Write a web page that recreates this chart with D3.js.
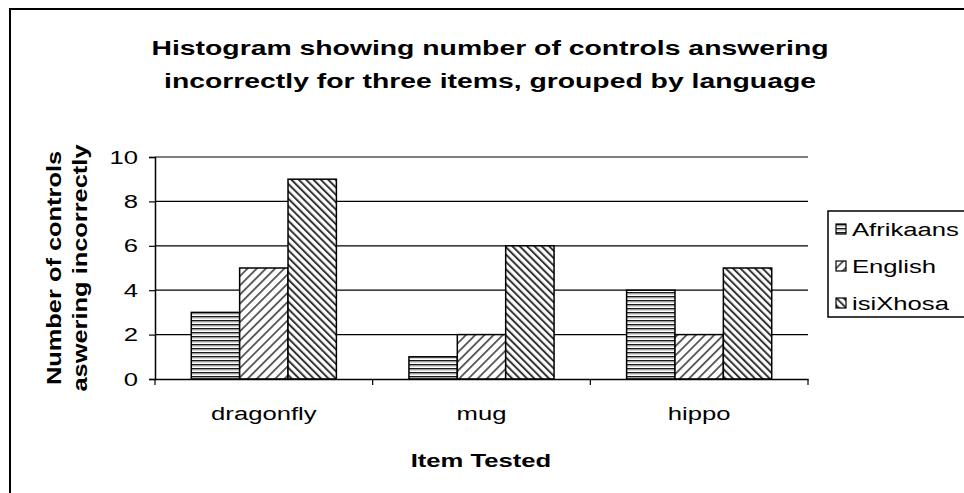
<!DOCTYPE html>
<html><head><meta charset="utf-8">
<script src="https://cdn.jsdelivr.net/npm/d3@7"></script>
<style>body{margin:0;background:#fff}svg{display:block}</style>
</head><body>
<svg id="c" width="964" height="493"></svg>
<script>
const categories = ["dragonfly", "mug", "hippo"];
const seriesNames = ["Afrikaans", "English", "isiXhosa"];
const afrikaans = [3, 1, 4];
const english = [5, 2, 2];
const isiXhosa = [9, 6, 5];
const yTicks = [0, 2, 4, 6, 8, 10];
const titleLines = ["Histogram showing number of controls answering", "incorrectly for three items, grouped by language"];
const yLabelLines = ["Number of controls", "aswering incorrectly"];
const xLabel = "Item Tested";

(function () {
const seriesValues = [afrikaans, english, isiXhosa];
const svg = d3.select("#c");
const font = "Liberation Sans, Arial, sans-serif";
const SX = 1.35; // text is drawn wide in the reference

// place a text at (x,y) with optional rotation, stretched along its baseline
function wide(sel, x, y, rot, sx) {
  sel.attr("x", 0).attr("y", 0)
     .attr("transform", `translate(${x},${y})${rot ? ` rotate(${rot})` : ""} scale(${sx || SX},1)`);
}

// patterns
const defs = svg.append("defs");
const pA = defs.append("pattern").attr("id","pA").attr("patternUnits","userSpaceOnUse").attr("width",4).attr("height",4);
pA.append("rect").attr("width",4).attr("height",4).attr("fill","#fff");
pA.append("rect").attr("y",0).attr("width",4).attr("height",1.4).attr("fill","#1a1a1a");
pA.append("rect").attr("y",1.4).attr("width",4).attr("height",1).attr("fill","#9a9a9a");
const pE = defs.append("pattern").attr("id","pE").attr("patternUnits","userSpaceOnUse").attr("width",6.5).attr("height",6.5).attr("patternTransform","rotate(45)");
pE.append("rect").attr("width",6.5).attr("height",6.5).attr("fill","#fff");
pE.append("rect").attr("x",0).attr("width",1.8).attr("height",6.5).attr("fill","#555");
const pX = defs.append("pattern").attr("id","pX").attr("patternUnits","userSpaceOnUse").attr("width",5.2).attr("height",5.2).attr("patternTransform","rotate(-45)");
pX.append("rect").attr("width",5.2).attr("height",5.2).attr("fill","#fff");
pX.append("rect").attr("x",0).attr("width",2).attr("height",5.2).attr("fill","#333");
const fills = ["url(#pA)","url(#pE)","url(#pX)"];

// outer border
svg.append("rect").attr("x",10).attr("y",9).attr("width",1000).attr("height",600)
  .attr("fill","none").attr("stroke","#000").attr("stroke-width",2);

const pl = 155, pr = 808, pt = 157, pb = 379;
const x0 = d3.scaleBand().domain(categories).range([pl, pr]).paddingInner(0).paddingOuter(0);
const y = d3.scaleLinear().domain([0, 10]).range([pb, pt]);
const bandW = x0.bandwidth();
const groupW = bandW / 1.5;
const x1 = d3.scaleBand().domain(seriesNames).range([0, groupW]);

// gridlines
svg.append("g").selectAll("line").data(yTicks.filter(d => d > 0)).join("line")
  .attr("x1", pl).attr("x2", pr).attr("y1", d => y(d)).attr("y2", d => y(d))
  .attr("stroke","#000").attr("stroke-width",1.2);

// bars
const g = svg.append("g");
seriesNames.forEach((s, si) => {
  g.append("g").selectAll("rect").data(categories).join("rect")
    .attr("x", (c) => x0(c) + (bandW - groupW) / 2 + x1(s))
    .attr("y", (c, i) => y(seriesValues[si][i]))
    .attr("width", x1.bandwidth())
    .attr("height", (c, i) => pb - y(seriesValues[si][i]))
    .attr("fill", fills[si]).attr("stroke","#000").attr("stroke-width",1.5);
});

// y axis
const yAxis = svg.append("g").attr("transform",`translate(${pl},0)`)
  .call(d3.axisLeft(y).tickValues(yTicks).tickSize(6).tickPadding(11).tickFormat(d3.format("d")));
yAxis.select(".domain").attr("stroke","#000").attr("stroke-width",1.5);
yAxis.selectAll(".tick line").attr("stroke","#000").attr("stroke-width",1.2);
yAxis.selectAll("text").attr("font-family",font).attr("font-size",19).attr("fill","#000")
  .each(function () { wide(d3.select(this), -17, 0); });

// x axis
const xAxis = svg.append("g").attr("transform",`translate(0,${pb})`)
  .call(d3.axisBottom(x0).tickSize(0).tickPadding(28));
xAxis.select(".domain").attr("stroke","#000").attr("stroke-width",1.5);
xAxis.selectAll("text").attr("font-family",font).attr("font-size",19).attr("fill","#000")
  .each(function () { wide(d3.select(this), 0, 28); });
xAxis.append("g").selectAll("line").data([pl, ...categories.map(c => x0(c) + bandW)]).join("line")
  .attr("x1", d => d).attr("x2", d => d).attr("y1", 0).attr("y2", 6)
  .attr("stroke","#000").attr("stroke-width",1.2);

// title
svg.append("g").selectAll("text").data(titleLines).join("text")
  .attr("text-anchor","middle").attr("font-family",font).attr("font-weight","bold")
  .attr("font-size",21).text(d => d)
  .each(function (d, i) { wide(d3.select(this), 490, 55 + i * 33); });

// y label
svg.append("g").selectAll("text").data(yLabelLines).join("text")
  .attr("text-anchor","middle").attr("font-family",font).attr("font-weight","bold")
  .attr("font-size",20).text(d => d)
  .each(function (d, i) { wide(d3.select(this), 61 + i * 26, 268, -90, 1.27); });

// x label
svg.append("text").attr("text-anchor","middle")
  .attr("font-family",font).attr("font-weight","bold").attr("font-size",19).text(xLabel)
  .call(s => wide(s, 481, 467));

// legend
const lg = svg.append("g");
lg.append("rect").attr("x",828).attr("y",211).attr("width",200).attr("height",106)
  .attr("fill","#fff").attr("stroke","#000").attr("stroke-width",1.5);
seriesNames.forEach((s, i) => {
  const cy = 229 + i * 37;
  lg.append("rect").attr("x",836).attr("y",cy-5).attr("width",10).attr("height",10)
    .attr("fill",fills[i]).attr("stroke","#000").attr("stroke-width",1.2);
  lg.append("text").attr("font-family",font).attr("font-size",19).text(s)
    .call(t => wide(t, 852, cy + 7));
});
})();
</script>
</body></html>
